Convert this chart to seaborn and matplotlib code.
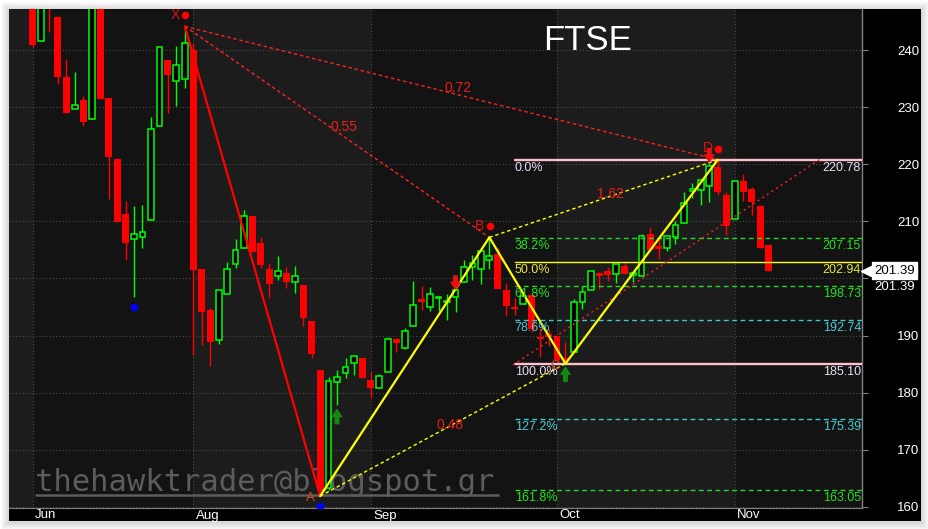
import numpy as np
import pandas as pd
import matplotlib
matplotlib.use("Agg")
import matplotlib.pyplot as plt
import seaborn as sns
from matplotlib.patches import Rectangle
from matplotlib.transforms import blended_transform_factory, offset_copy

# ---------------- data ----------------
opens = [250.0, 241.6, 251.0, 245.8, 235.3, 229.6, 231.2, 228.0, 249.0, 231.6,
         220.9, 211.3, 207.0, 207.3, 210.2, 226.75, 238.25, 234.6, 235.0, 240.0,
         201.7, 194.5, 189.3, 197.2, 202.5, 205.3, 210.9, 206.2, 201.7, 200.5,
         201.0, 199.3, 198.9, 192.6, 184.0, 163.3, 181.8, 183.4, 185.15, 186.1,
         182.2, 180.8, 183.6, 189.35, 187.9, 191.6, 196.4, 195.0, 196.5, 195.8,
         196.7, 199.3, 202.0, 201.7, 203.2, 204.3, 198.0, 195.0, 195.5, 197.1,
         189.8, 190.35, 189.9, 186.0, 187.1, 195.8, 198.0, 200.9, 201.4, 200.85,
         202.25, 200.7, 200.5, 207.8, 205.75, 205.4, 207.3, 209.8, 215.3, 215.55,
         216.25, 219.5, 214.6, 210.5, 217.0, 215.7, 212.7, 205.9]
highs = [250.5, 250.0, 251.0, 246.0, 238.4, 236.1, 231.9, 250.0, 250.0, 231.6,
         220.9, 213.6, 212.7, 212.9, 228.3, 240.5, 238.25, 240.7, 244.15, 241.2,
         201.7, 194.8, 197.9, 202.9, 206.9, 212.0, 210.9, 207.3, 202.7, 203.9,
         202.0, 202.2, 198.9, 192.6, 184.0, 182.8, 184.0, 186.1, 186.5, 186.1,
         183.7, 183.2, 189.8, 189.6, 191.3, 199.6, 198.75, 198.5, 196.9, 197.3,
         198.0, 203.2, 204.1, 204.75, 207.2, 205.4, 199.2, 196.5, 197.6, 197.1,
         191.4, 191.1, 189.9, 188.8, 196.4, 198.7, 201.4, 201.2, 202.1, 202.5,
         202.9, 200.8, 207.8, 209.0, 207.1, 207.4, 210.1, 215.1, 216.8, 217.2,
         220.3, 220.78, 215.1, 217.0, 218.3, 216.1, 212.9, 205.9]
lows = [240.6, 241.6, 243.2, 234.0, 229.0, 229.6, 226.7, 228.0, 231.5, 214.0,
        209.9, 203.3, 196.8, 205.4, 210.2, 226.75, 229.0, 230.25, 233.4, 186.6,
        188.4, 184.6, 188.5, 197.2, 201.9, 205.3, 204.7, 201.8, 196.6, 199.8,
        198.4, 197.5, 191.6, 186.0, 161.9, 163.0, 177.9, 182.6, 183.1, 182.5,
        179.1, 180.8, 183.6, 187.2, 187.7, 191.6, 194.5, 194.3, 194.3, 192.7,
        194.2, 199.3, 199.7, 199.1, 201.7, 198.2, 193.5, 193.6, 195.5, 190.7,
        186.2, 188.1, 185.1, 185.3, 187.1, 194.7, 198.0, 198.1, 199.6, 199.2,
        200.8, 199.4, 200.5, 205.0, 203.5, 204.8, 206.0, 209.8, 214.1, 212.9,
        213.45, 214.6, 207.6, 210.5, 213.6, 211.2, 205.4, 201.39]
closes = [240.8, 249.0, 248.0, 235.3, 229.0, 230.3, 227.4, 249.0, 231.5, 221.2,
          209.9, 206.3, 207.8, 208.1, 226.2, 240.5, 235.7, 237.4, 241.2, 201.5,
          194.2, 188.8, 197.9, 201.6, 205.0, 210.9, 204.7, 202.4, 199.0, 201.3,
          199.3, 200.4, 193.1, 186.8, 163.2, 182.1, 182.75, 184.45, 186.5, 182.5,
          180.9, 182.9, 189.4, 188.65, 190.8, 195.4, 195.9, 197.3, 196.7, 196.05,
          198.0, 202.0, 202.7, 204.75, 204.0, 198.2, 195.2, 194.6, 197.0, 191.1,
          189.4, 189.7, 185.7, 185.6, 195.8, 197.6, 201.4, 200.5, 200.6, 202.5,
          200.8, 200.8, 207.4, 205.0, 205.2, 207.4, 209.3, 213.2, 215.7, 217.2,
          219.7, 215.1, 209.2, 217.0, 215.2, 213.4, 205.4, 201.39]

month_names = ["Jun", "Aug", "Sep", "Oct", "Nov"]
month_idx = [0, 19, 40, 62, 83]
y_ticks = [160, 170, 180, 190, 200, 210, 220, 230, 240]
y_tick_labels = ["160", "170", "180", "190", "", "210", "220", "230", "240"]

pattern_names = ["X", "A", "B", "C", "D"]
pattern_idx = [18, 34, 54, 63, 81]
pattern_price = [244.15, 161.9, 207.2, 185.1, 220.78]
ratio_pairs = [("X", "B"), ("X", "D"), ("A", "C"), ("B", "D")]
ratio_labels = ["0.55", "0.72", "0.48", "1.62"]

fib_labels = ["0.0%", "38.2%", "50.0%", "61.8%", "78.6%", "100.0%", "127.2%", "161.8%"]
fib_values = [220.78, 207.15, 202.94, 198.73, 192.74, 185.10, 175.39, 163.05]
fib_start = 57.0

ray_idx = [56.8, 93.3]
ray_price = [184.86, 221.1]

up_arrow_idx = [36, 63]
down_arrow_idx = [50, 80]
swing_low_idx = [12, 34]
last_price = 201.39

title = "FTSE"
watermark = "thehawktrader@blogspot.gr"

# ---------------- style ----------------
sns.set_style("dark")
plt.rcParams["font.family"] = ["Liberation Sans", "DejaVu Sans"]

RED = "#ff0000"
GREEN = "#00ff00"
YELLOW = "#ffff00"
PINK = "#ffc0cb"
FGREEN = "#22dd22"
CYAN = "#40c8c8"
fib_line_colors = [PINK, FGREEN, YELLOW, FGREEN, CYAN, PINK, CYAN, FGREEN]
fib_text_colors = ["#e8def2", "#22e022", "#e6e640", "#22e022", "#50c8d0", "#e8def2", "#50c8d0", "#22e022"]
fib_styles = ["-", (0, (3.5, 2.5)), "-", (0, (3.5, 2.5)), (0, (3.5, 2.5)), "-", (0, (3.5, 2.5)), (0, (3.5, 2.5))]
fib_widths = [1.7, 1.0, 1.0, 1.0, 1.0, 1.7, 1.0, 1.0]

W, H = 929, 529
fig = plt.figure(figsize=(W / 100, H / 100), dpi=100)
fig.patch.set_facecolor("white")


def fig_rect(x0, y0, x1, y1, **kw):
    r = Rectangle((x0 / W, 1 - y1 / H), (x1 - x0) / W, (y1 - y0) / H,
                  transform=fig.transFigure, **kw)
    fig.add_artist(r)


# shadow around panel
for k in range(1, 9):
    fig_rect(9 - k, 9 - k + 1, 921 + k, 521 + k + 1, fc="black", ec="none", alpha=0.02, zorder=-3)
fig_rect(9, 9, 921, 521, fc="white", ec="none", zorder=-2)
fig_rect(862, 9, 921, 521, fc="black", ec="none", zorder=-1)
fig_rect(9, 508, 862, 521, fc="black", ec="none", zorder=-1)

ax_l, ax_r, ax_t, ax_b = 9, 862, 9, 508.3
ax = fig.add_axes([ax_l / W, 1 - ax_b / H, (ax_r - ax_l) / W, (ax_b - ax_t) / H])
ax.set_facecolor("#131313")

idx = np.arange(len(opens))
o = np.array(opens); h = np.array(highs); l = np.array(lows); c = np.array(closes)
up = c >= o
body_lo = np.minimum(o, c)
body_h = np.maximum(np.abs(c - o), 0.25)

ax.set_xlim(-2.78, 98.05)
ax.set_ylim(159.77, 247.18)

# background bands (alternate months)
bounds = [-2.78] + month_idx + [98.05]
for k in range(len(bounds) - 1):
    if k % 2 == 0:
        ax.axvspan(bounds[k], bounds[k + 1], color="#1c1c1c", zorder=0.1, lw=0)

# grid
ax.set_axisbelow(True)
ax.grid(True, color="#4c4c4c", linestyle=(0, (1, 2)), lw=0.8)

# watermark
ax.text((35 - ax_l) / (ax_r - ax_l), (ax_b - 491) / (ax_b - ax_t), watermark,
        transform=ax.transAxes, family="DejaVu Sans Mono", fontsize=22,
        color="#5c5c5c", ha="left", va="baseline", zorder=1)
ax.plot([(35 - ax_l) / (ax_r - ax_l), (499 - ax_l) / (ax_r - ax_l)],
        [(ax_b - 494.5) / (ax_b - ax_t)] * 2, transform=ax.transAxes,
        color="#5c5c5c", lw=1.8, zorder=1, solid_capstyle="butt")

# candles
ax.vlines(idx[up], l[up], h[up], color=GREEN, lw=1.0, zorder=2)
ax.vlines(idx[~up], l[~up], h[~up], color=RED, lw=1.0, zorder=2)
ax.bar(idx[~up], body_h[~up], bottom=body_lo[~up], width=0.82, color=RED,
       edgecolor="none", zorder=3)
ax.bar(idx[up], body_h[up], bottom=body_lo[up], width=0.68, facecolor="black",
       edgecolor=GREEN, lw=1.1, zorder=3)

# fib levels
for lab, val, lc, tc, ls, lw in zip(fib_labels, fib_values, fib_line_colors,
                                    fib_text_colors, fib_styles, fib_widths):
    ax.plot([fib_start, 98.05], [val, val], color=lc, ls=ls, lw=lw, zorder=4)
    ax.annotate(lab, xy=(fib_start, val), xytext=(0, -2), textcoords="offset pixels",
                ha="left", va="top", color=tc, fontsize=9, zorder=6)
    ax.annotate(f"{val:.2f}", xy=(0.9988, val), xycoords=("axes fraction", "data"),
                xytext=(0, -2), textcoords="offset pixels",
                ha="right", va="top", color=tc, fontsize=9, zorder=6)

# ray from A
ax.plot(ray_idx, ray_price, color="#ff2020", ls=(0, (1.5, 2.5)), lw=1.0, zorder=4)

# ratio (dotted) lines
pt = {n: (i, p) for n, i, p in zip(pattern_names, pattern_idx, pattern_price)}
ratio_colors = ["#ff2020", "#ff2020", YELLOW, YELLOW]
for (a, b), lab, col in zip(ratio_pairs, ratio_labels, ratio_colors):
    (xa, ya), (xb, yb) = pt[a], pt[b]
    ax.plot([xa, xb], [ya, yb], color=col, ls=(0, (2.5, 2.0)), lw=1.0, zorder=4)
    ax.annotate(lab, xy=((xa + xb) / 2, (ya + yb) / 2), xytext=(7, 5),
                textcoords="offset pixels", ha="center", va="center",
                color="#ec1c1c", fontsize=10, zorder=6)

# XABCD solid legs via seaborn
sns.lineplot(x=pattern_idx[:2], y=pattern_price[:2], color=RED, lw=1.6, ax=ax,
             sort=False, zorder=5)
sns.lineplot(x=pattern_idx[1:], y=pattern_price[1:], color=YELLOW, lw=1.6, ax=ax,
             sort=False, zorder=5)

# point labels
for n, i, p in zip(pattern_names, pattern_idx, pattern_price):
    if n in ("X", "B", "D"):
        tr = offset_copy(ax.transData, fig=fig, x=0.5, y=11, units="dots")
        ax.plot([i], [p], "o", ms=4.5, color=RED, transform=tr, zorder=6, clip_on=False)
        ax.annotate(n, xy=(i, p), xytext=(-9.5, 11.5), textcoords="offset pixels",
                    ha="center", va="center", color="#e01010", fontsize=10, zorder=6)
    else:
        ax.annotate(n, xy=(i, p), xytext=(-10, -2), textcoords="offset pixels",
                    ha="center", va="center", color="#e04818", fontsize=9.5, zorder=6)

# swing-low blue dots
for i in swing_low_idx:
    tr = offset_copy(ax.transData, fig=fig, x=0, y=-10, units="dots")
    ax.plot([i], [lows[i]], "o", ms=4.5, color="#0000ff", transform=tr, zorder=6)

# arrows
for i in up_arrow_idx:
    ax.annotate("", xy=(i, lows[i]), xytext=(0, -19), textcoords="offset pixels",
                arrowprops=dict(arrowstyle="simple,head_length=0.5,head_width=0.65,tail_width=0.25",
                                color="#108a10", shrinkA=0, shrinkB=3.5), zorder=6)
for i in down_arrow_idx:
    ax.annotate("", xy=(i, highs[i]), xytext=(0, 14), textcoords="offset pixels",
                arrowprops=dict(arrowstyle="simple,head_length=0.5,head_width=0.65,tail_width=0.25",
                                color="#ee1010", shrinkA=0, shrinkB=0.5), zorder=6)

# title
ax.text((588 - ax_l) / (ax_r - ax_l), (ax_b - 41) / (ax_b - ax_t), title,
        transform=ax.transAxes, color="white", fontsize=25, ha="center", va="center",
        zorder=7)

# axes styling
for s in ["top", "left"]:
    ax.spines[s].set_visible(False)
ax.spines["right"].set_color("#808080")
ax.spines["bottom"].set_color("#808080")
ax.spines["right"].set_linewidth(1.0)
ax.spines["bottom"].set_linewidth(0.8)

ax.yaxis.tick_right()
ax.set_yticks(y_ticks)
ax.set_yticklabels(y_tick_labels)
ax.tick_params(axis="y", colors="#808080", labelcolor="white", length=4.3,
               width=0.8, direction="out", pad=21, labelsize=9.5)
ax.set_xticks(month_idx)
ax.set_xticklabels([""] * len(month_idx))
ax.tick_params(axis="x", colors="#808080", length=3.5, width=0.8, direction="out")
ax.set_xlabel("")
ax.set_ylabel("")

tr_month = offset_copy(blended_transform_factory(ax.transData, ax.transAxes),
                       fig=fig, x=2.5, y=0, units="dots")
for i, m in zip(month_idx, month_names):
    ax.text(i, (ax_b - 515.5) / (ax_b - ax_t), m, transform=tr_month, color="white",
            fontsize=9.5, ha="left", va="center", clip_on=False)

# last price marker
yt = blended_transform_factory(ax.transAxes, ax.transData)
tri_tr = offset_copy(yt, fig=fig, x=4.5, y=0, units="dots")
ax.plot([1.0], [last_price], marker="<", ms=7, color="white", transform=tri_tr,
        clip_on=False, zorder=8)
ax.annotate(f"{last_price:.2f}", xy=(1.0, last_price), xycoords=("axes fraction", "data"),
            xytext=(12, 0), textcoords="offset pixels", ha="left", va="center",
            color="black", fontsize=9.5, annotation_clip=False, zorder=8,
            bbox=dict(boxstyle="square,pad=0.18", fc="white", ec="white"))
ax.annotate(f"{last_price:.2f}", xy=(1.0, last_price), xycoords=("axes fraction", "data"),
            xytext=(12, -16), textcoords="offset pixels", ha="left", va="center",
            color="white", fontsize=9.5, annotation_clip=False, zorder=8)

fig.savefig("out.png", dpi=100, facecolor="white")
